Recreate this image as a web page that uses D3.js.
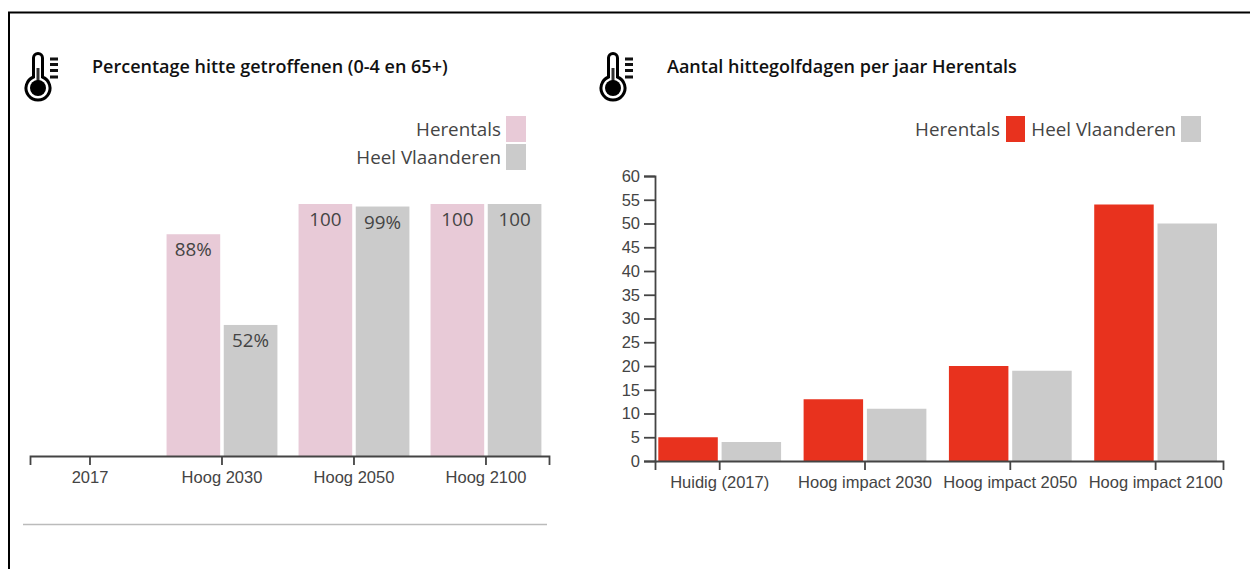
<!DOCTYPE html>
<html>
<head>
<meta charset="utf-8">
<script src="https://cdnjs.cloudflare.com/ajax/libs/d3/7.8.5/d3.min.js"></script>
<style>
body{margin:0;background:#fff}
svg{display:block}
.tick text{font-family:"Liberation Sans",Arial,sans-serif;fill:#444}
.domain,.tick line{stroke:#444}
.title{font-family:"Open Sans",sans-serif;font-weight:600;font-size:18px;fill:#111}
.lab{font-family:"Open Sans",sans-serif;font-size:18.8px;fill:#444}
</style>
</head>
<body>
<svg id="chart" width="1250" height="569"></svg>
<script>
//left chart: percentage
var pctCats=["2017","Hoog 2030","Hoog 2050","Hoog 2100"]
var pctLocal=[0,88,100,100]
var pctVlaanderen=[0,52,99,100]
var pctLocalLabels=["","88%","100","100"]
var pctVlaanderenLabels=["","52%","99%","100"]

//right chart: heat wave days
var dayCats=["Huidig (2017)","Hoog impact 2030","Hoog impact 2050","Hoog impact 2100"]
var dayLocal=[5,13,20,54]
var dayVlaanderen=[4,11,19,50]
var dayTicks=[0,5,10,15,20,25,30,35,40,45,50,55,60]

var pink="#e8cad7", red="#e8321e", grey="#cbcbcb"

var svg=d3.select("#chart")

//frame
svg.append("path").attr("d","M9,569V12.5H1250").attr("fill","none").attr("stroke","#000").attr("stroke-width",2)
svg.append("line").attr("x1",23).attr("x2",547).attr("y1",524.5).attr("y2",524.5).attr("stroke","#bbb").attr("stroke-width",1.5)

var drawIcon=function(dx){
    var g=svg.append("g").attr("transform","translate("+dx+",0)")
    g.append("path")
     .attr("d","M33.5,77V58a4.5,4.5 0 0 1 9,0V77a12,12 0 1 1 -9,0Z")
     .attr("fill","#fff").attr("stroke","#000").attr("stroke-width",3)
    g.append("rect").attr("x",36.5).attr("y",68).attr("width",3).attr("height",14).attr("fill","#333")
    g.append("circle").attr("cx",38).attr("cy",88).attr("r",8).attr("fill","#000")
    ;[59,64.5,70.5,77].forEach(function(y,i){
        g.append("rect").attr("x",50).attr("y",y-1.5).attr("width",8).attr("height",3).attr("fill","#111")
    })
}

var drawGroups=function(cats,a,b,colA,colB,x0,x1,y){
    cats.forEach(function(c,i){
        if(a[i]>0) svg.append("rect").attr("x",x0(c)+x1("a")).attr("y",y(a[i])).attr("width",x1.bandwidth())
            .attr("height",y(0)-y(a[i])).attr("fill",colA)
        if(b[i]>0) svg.append("rect").attr("x",x0(c)+x1("b")).attr("y",y(b[i])).attr("width",x1.bandwidth())
            .attr("height",y(0)-y(b[i])).attr("fill",colB)
    })
}

var legendItem=function(text,textX,anchor,boxX,boxW,boxY,col){
    svg.append("text").attr("class","lab").attr("x",textX).attr("y",boxY+20).attr("text-anchor",anchor).text(text)
    svg.append("rect").attr("x",boxX).attr("y",boxY).attr("width",boxW).attr("height",26).attr("fill",col)
}

var styleAxis=function(g){
    g.selectAll("text").style("font-size","16.5px")
    g.selectAll(".domain,.tick line").attr("stroke-width",1.8)
}

//--- left
drawIcon(0)
svg.append("text").attr("class","title").attr("x",92).attr("y",73).text("Percentage hitte getroffenen (0-4 en 65+)")
legendItem("Herentals",501,"end",506,20,116,pink)
legendItem("Heel Vlaanderen",501,"end",506,20,144,grey)

var xp=d3.scaleBand().domain(pctCats).range([30,549]).paddingInner(0.16).paddingOuter(0.046).align(0.375)
var xpInner=d3.scaleBand().domain(["a","b"]).range([0,xp.bandwidth()]).paddingInner(0.062)
var yp=d3.scaleLinear().domain([0,100]).range([456,204])
drawGroups(pctCats,pctLocal,pctVlaanderen,pink,grey,xp,xpInner,yp)

svg.append("g").attr("transform","translate(0,456)")
   .call(d3.axisBottom(xp).tickSize(9).tickPadding(6))
   .call(styleAxis)

pctCats.forEach(function(c,i){
    svg.append("text").attr("class","lab").attr("x",xp(c)+xpInner("a")+xpInner.bandwidth()/2)
       .attr("y",yp(pctLocal[i])+22).attr("text-anchor","middle").text(pctLocalLabels[i])
    svg.append("text").attr("class","lab").attr("x",xp(c)+xpInner("b")+xpInner.bandwidth()/2)
       .attr("y",yp(pctVlaanderen[i])+22).attr("text-anchor","middle").text(pctVlaanderenLabels[i])
})

//--- right
drawIcon(575)
svg.append("text").attr("class","title").attr("x",667).attr("y",73).text("Aantal hittegolfdagen per jaar Herentals")
legendItem("Herentals",1000,"end",1006,19,116,red)
legendItem("Heel Vlaanderen",1176,"end",1181,20,116,grey)

var xd=d3.scaleBand().domain(dayCats).range([655,1223]).paddingInner(0.155).paddingOuter(0.032).align(0.355)
var xdInner=d3.scaleBand().domain(["a","b"]).range([0,xd.bandwidth()]).paddingInner(0.06)
var yd=d3.scaleLinear().domain([0,60]).range([461,176])
drawGroups(dayCats,dayLocal,dayVlaanderen,red,grey,xd,xdInner,yd)

svg.append("g").attr("transform","translate(0,461)")
   .call(d3.axisBottom(xd).tickSize(9).tickPadding(6))
   .call(styleAxis)
svg.append("g").attr("transform","translate(655,0)")
   .call(d3.axisLeft(yd).tickValues(dayTicks).tickSize(11).tickPadding(4))
   .call(styleAxis)
</script>
</body>
</html>
